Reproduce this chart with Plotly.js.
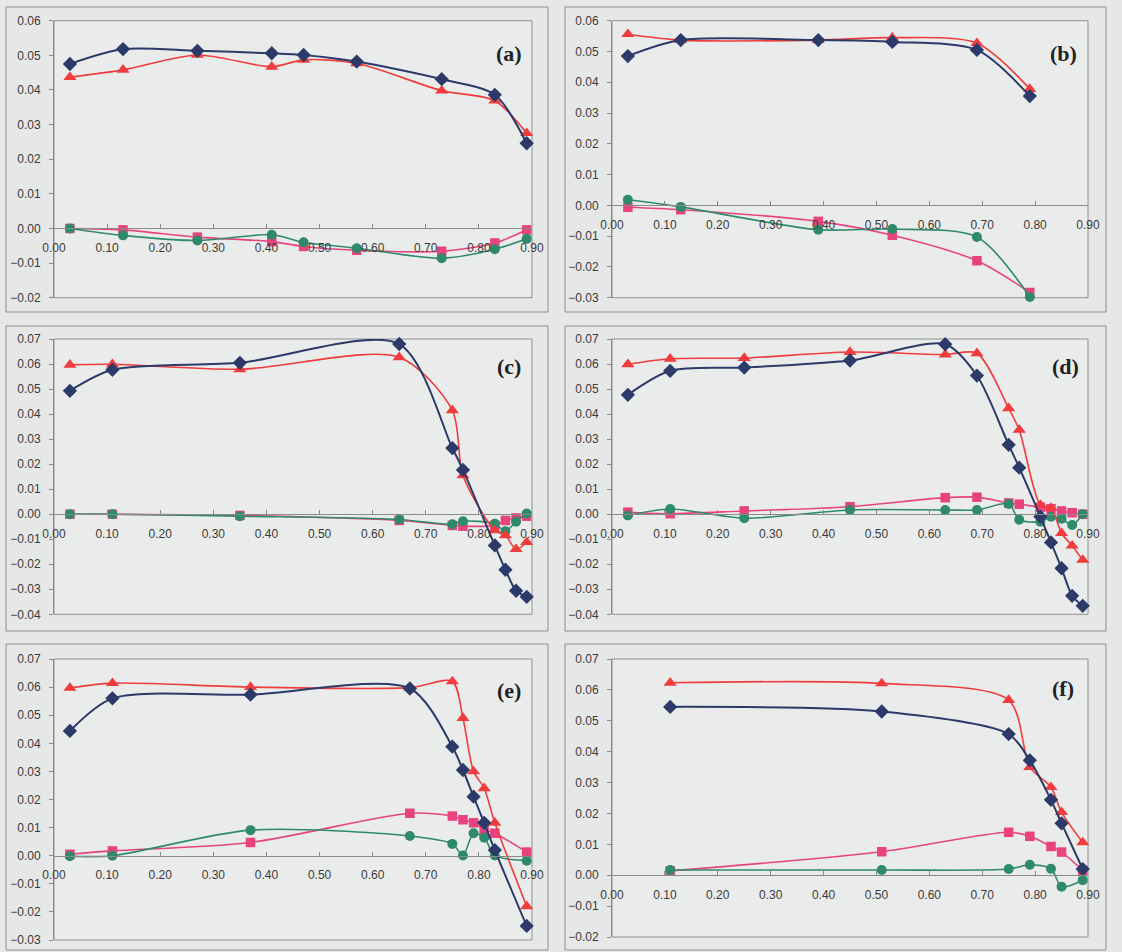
<!DOCTYPE html>
<html>
<head>
<meta charset="utf-8">
<script src="https://cdn.plot.ly/plotly-3.0.1.min.js"></script>
<style>html,body{margin:0;padding:0;background:#e6e8e8;}#chart{width:1122px;height:952px;}</style>
</head>
<body>
<div id="chart"></div>
<script>
// ---- Data ----
const xTicks = [0.00, 0.10, 0.20, 0.30, 0.40, 0.50, 0.60, 0.70, 0.80, 0.90];
const panelLabels = ['(a)', '(b)', '(c)', '(d)', '(e)', '(f)'];

const xA = [0.03, 0.13, 0.27, 0.41, 0.47, 0.57, 0.73, 0.83, 0.89];
const navyA = [0.0475, 0.0518, 0.0513, 0.0506, 0.0501, 0.0482, 0.0431, 0.0386, 0.0246];
const redA = [0.0437, 0.0458, 0.0501, 0.0467, 0.0487, 0.0477, 0.0398, 0.0369, 0.0275];
const magA = [0.0000, -0.0004, -0.0025, -0.0038, -0.0052, -0.0063, -0.0066, -0.0042, -0.0004];
const tealA = [0.0000, -0.0020, -0.0035, -0.0018, -0.0040, -0.0057, -0.0086, -0.0060, -0.0030];

const xB = [0.03, 0.13, 0.39, 0.53, 0.69, 0.79];
const navyB = [0.0485, 0.0537, 0.0537, 0.0531, 0.0505, 0.0355];
const redB = [0.0556, 0.0537, 0.0537, 0.0545, 0.0527, 0.0378];
const magB = [-0.0006, -0.0014, -0.0052, -0.0097, -0.0180, -0.0283];
const tealB = [0.0018, -0.0005, -0.0079, -0.0077, -0.0103, -0.0298];

const xC = [0.03, 0.11, 0.35, 0.65, 0.75, 0.77, 0.83, 0.85, 0.87, 0.89];
const navyC = [0.0493, 0.0577, 0.0605, 0.0680, 0.0264, 0.0177, -0.0125, -0.0222, -0.0306, -0.0330];
const redC = [0.0597, 0.0599, 0.0579, 0.0627, 0.0415, 0.0155, -0.0065, -0.0085, -0.0140, -0.0112];
const magC = [0.0000, 0.0000, -0.0005, -0.0025, -0.0045, -0.0048, -0.0045, -0.0025, -0.0015, -0.0008];
const tealC = [0.0000, 0.0000, -0.0008, -0.0021, -0.0040, -0.0028, -0.0038, -0.0068, -0.0030, 0.0003];

const xD = [0.03, 0.11, 0.25, 0.45, 0.63, 0.69, 0.75, 0.77, 0.81, 0.83, 0.85, 0.87, 0.89];
const navyD = [0.0477, 0.0573, 0.0586, 0.0614, 0.0679, 0.0554, 0.0277, 0.0186, -0.0010, -0.0113, -0.0216, -0.0326, -0.0366];
const redD = [0.0599, 0.0621, 0.0624, 0.0648, 0.0638, 0.0643, 0.0423, 0.0337, 0.0037, 0.0025, -0.0076, -0.0126, -0.0183];
const magD = [0.0008, 0.0002, 0.0013, 0.0030, 0.0066, 0.0068, 0.0045, 0.0040, 0.0028, 0.0022, 0.0013, 0.0006, 0.0000];
const tealD = [-0.0005, 0.0021, -0.0016, 0.0017, 0.0017, 0.0017, 0.0041, -0.0022, -0.0030, -0.0010, -0.0018, -0.0043, 0.0000];

const xE = [0.03, 0.11, 0.37, 0.67, 0.75, 0.77, 0.79, 0.81, 0.83, 0.89];
const navyE = [0.0444, 0.0560, 0.0573, 0.0595, 0.0388, 0.0305, 0.0210, 0.0117, 0.0020, -0.0250];
const redE = [0.0597, 0.0614, 0.0600, 0.0598, 0.0620, 0.0490, 0.0300, 0.0240, 0.0117, -0.0180];
const magE = [0.0005, 0.0017, 0.0047, 0.0151, 0.0141, 0.0128, 0.0117, 0.0094, 0.0080, 0.0013];
const tealE = [-0.0002, 0.0000, 0.0091, 0.0070, 0.0042, 0.0001, 0.0080, 0.0064, 0.0001, -0.0018];

const xF = [0.11, 0.51, 0.75, 0.79, 0.83, 0.85, 0.89];
const navyF = [0.0545, 0.0530, 0.0457, 0.0372, 0.0244, 0.0168, 0.0020];
const redF = [0.0623, 0.0621, 0.0567, 0.0350, 0.0285, 0.0204, 0.0106];
const magF = [0.0014, 0.0076, 0.0139, 0.0126, 0.0093, 0.0075, 0.0016];
const tealF = [0.0017, 0.0017, 0.0020, 0.0034, 0.0021, -0.0037, -0.0016];

const yRanges = [[-0.02, 0.06], [-0.03, 0.06], [-0.04, 0.07], [-0.04, 0.07], [-0.03, 0.07], [-0.02, 0.07]];

// ---- Layout geometry (pixels) ----
const W = 1122, H = 952;
const panels = [
  {x: xA, s: [magA, tealA, redA, navyA], px: [54, 532],  py: [20.7, 297.7], box: [6, 548, 7, 312],   lab: [509, 53]},
  {x: xB, s: [magB, tealB, redB, navyB], px: [612, 1088], py: [20.7, 297.7], box: [565, 1106, 7, 312], lab: [1063, 53]},
  {x: xC, s: [magC, tealC, redC, navyC], px: [54, 532],  py: [339, 614.3], box: [6, 548, 326, 631],  lab: [509, 367]},
  {x: xD, s: [magD, tealD, redD, navyD], px: [612, 1088], py: [339, 614.3], box: [565, 1106, 326, 631], lab: [1065, 367]},
  {x: xE, s: [magE, tealE, redE, navyE], px: [54, 532],  py: [659, 940],   box: [6, 548, 644, 950],  lab: [509, 690]},
  {x: xF, s: [magF, tealF, redF, navyF], px: [612, 1088], py: [659, 937],   box: [565, 1106, 644, 950], lab: [1063, 688]}
];

const styles = [
  {color: '#e8437e', symbol: 'square', size: 9.5, width: 1.6},
  {color: '#2f8a6b', symbol: 'circle', size: 10, width: 1.6},
  {color: '#f03c3c', symbol: 'triangle-up', size: 11.5, width: 1.6},
  {color: '#2b3a68', symbol: 'diamond', size: 11, width: 2}
];

const tickFont = {family: 'Liberation Sans, Arial, sans-serif', size: 12, color: '#3a3a3a'};
const traces = [];
const layout = {
  width: W, height: H,
  margin: {l: 0, r: 0, t: 0, b: 0},
  paper_bgcolor: '#e6e8e8',
  plot_bgcolor: '#eaecec',
  showlegend: false,
  shapes: [],
  annotations: []
};

panels.forEach((p, i) => {
  const n = i === 0 ? '' : String(i + 1);
  const xr = 'x' + n, yr = 'y' + n;
  const yRange = yRanges[i];
  p.s.forEach((ys, k) => {
    const st = styles[k];
    traces.push({
      type: 'scatter', mode: 'lines+markers',
      x: p.x, y: ys, xaxis: xr, yaxis: yr,
      cliponaxis: false,
      line: {color: st.color, width: st.width, shape: 'spline', smoothing: 0.8},
      marker: {color: st.color, symbol: st.symbol, size: st.size, line: {color: st.color, width: 0}},
      hoverinfo: 'x+y'
    });
  });
  const y0px = p.py[0] + (yRange[1] / (yRange[1] - yRange[0])) * (p.py[1] - p.py[0]);
  layout['xaxis' + n] = {
    domain: [p.px[0] / W, p.px[1] / W],
    range: [0, 0.9],
    anchor: 'free',
    position: 1 - y0px / H,
    tickvals: xTicks,
    tickformat: '.2f',
    ticks: 'inside', ticklen: 4, tickcolor: '#888',
    ticklabelstandoff: 8,
    showline: true, linecolor: '#8a8a8a', linewidth: 1,
    showgrid: false, zeroline: false,
    tickfont: tickFont,
    fixedrange: true
  };
  layout['yaxis' + n] = {
    domain: [1 - p.py[1] / H, 1 - p.py[0] / H],
    range: yRange,
    anchor: xr,
    dtick: 0.01,
    tick0: 0,
    tickformat: '.2f',
    ticks: 'outside', ticklen: 4, tickcolor: '#888',
    ticklabelstandoff: 6,
    showline: true, linecolor: '#8a8a8a', linewidth: 1,
    showgrid: false, zeroline: false,
    tickfont: tickFont,
    fixedrange: true
  };
  // plot-area border
  layout.shapes.push({type: 'rect', xref: xr + ' domain', yref: yr + ' domain', x0: 0, x1: 1, y0: 0, y1: 1,
    line: {color: '#909090', width: 1}, layer: 'below'});
  // outer chart border
  layout.shapes.push({type: 'rect', xref: 'paper', yref: 'paper',
    x0: p.box[0] / W, x1: p.box[1] / W, y0: 1 - p.box[3] / H, y1: 1 - p.box[2] / H,
    line: {color: '#8c8c8c', width: 1}, layer: 'below'});
  layout.annotations.push({xref: 'paper', yref: 'paper', x: p.lab[0] / W, y: 1 - p.lab[1] / H,
    text: '<b>' + panelLabels[i] + '</b>', showarrow: false, xanchor: 'center', yanchor: 'middle',
    font: {family: 'Liberation Serif, Times New Roman, serif', size: 22, color: '#222'}});
});

Plotly.newPlot('chart', traces, layout, {displayModeBar: false, staticPlot: true});
</script>
</body>
</html>
